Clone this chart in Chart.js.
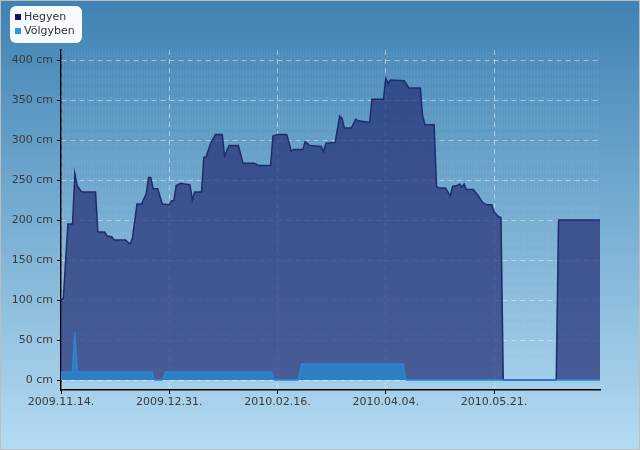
<!DOCTYPE html>
<html>
<head>
<meta charset="utf-8">
<script src="https://cdn.jsdelivr.net/npm/chart.js@4.4.1/dist/chart.umd.min.js"></script>
<style>
  body { margin: 0; background: #fff; }
  canvas { display: block; }
</style>
</head>
<body>
<canvas id="snowChart" width="640" height="450"></canvas>
<script>
// days counted from 2009.11.14.
const daysHegyen = [0, 1, 3, 5, 6, 7, 9, 15, 16, 19, 20, 22, 23, 28, 30, 31, 33, 35, 37, 38, 39, 40, 42, 44, 47, 48, 49, 50, 52, 56, 57, 58, 61, 62, 63, 65, 67, 70, 71, 73, 77, 79, 84, 86, 91, 92, 94, 98, 100, 101, 105, 106, 108, 113, 114, 115, 119, 121, 122, 123, 126, 128, 129, 134, 135, 140, 141, 142, 143, 149, 151, 156, 157, 158, 162, 163, 164, 167, 169, 170, 172, 173, 174, 175, 176, 179, 181, 183, 185, 187, 188, 190, 191, 192, 215, 216, 234];
const snowHegyen = [100, 102, 195, 195, 258, 243, 235, 235, 185, 185, 180, 179, 175, 175, 170, 177, 220, 220, 233, 253, 253, 239, 239, 220, 219, 224, 224, 243, 246, 244, 225, 235, 235, 278, 279, 296, 307, 307, 280, 293, 293, 271, 271, 268, 268, 305, 307, 307, 286, 288, 288, 298, 293, 292, 285, 296, 297, 330, 327, 315, 315, 326, 324, 322, 351, 351, 377, 371, 375, 374, 365, 365, 330, 319, 319, 242, 240, 240, 230, 242, 243, 245, 241, 245, 238, 238, 231, 222, 219, 219, 210, 204, 203, 0, 0, 200, 200];

const daysVolgyben = [0, 5, 6, 7, 39.5, 40.5, 44, 45.5, 91.5, 92.5, 103, 104.5, 148.6, 149.7, 234];
const snowVolgyben = [10, 10, 60, 10, 10, 0, 0, 10, 10, 0, 0, 20, 20, 0, 0];

const xTickDays = [0, 47, 94, 141, 188];
const xTickLabels = ['2009.11.14.', '2009.12.31.', '2010.02.16.', '2010.04.04.', '2010.05.21.'];
const yTickValues = [0, 50, 100, 150, 200, 250, 300, 350, 400];

const seriesNames = ['Hegyen', 'Völgyben'];
const seriesColors = ['#15155c', '#2a98de'];

const toPoints = (xs, ys) => xs.map((x, i) => ({ x: x, y: ys[i] }));

const backdrop = {
  id: 'backdrop',
  beforeDraw(chart) {
    const { ctx, width, height, chartArea } = chart;
    ctx.save();
    const g = ctx.createLinearGradient(0, 0, 0, height);
    g.addColorStop(0, '#3f82b3');
    g.addColorStop(1, '#b4dbf3');
    ctx.fillStyle = g;
    ctx.fillRect(0, 0, width, height);
    // faint striped texture in the plot area
    ctx.fillStyle = 'rgba(255,255,255,0.07)';
    for (let y = chartArea.top + 2; y < chartArea.bottom - 4; y += 9) {
      for (let x = chartArea.left + 2; x < chartArea.right; x += 3) {
        ctx.fillRect(x, y, 1, 5);
      }
    }
    ctx.restore();
  },
  afterDraw(chart) {
    const { ctx, width, height } = chart;
    ctx.save();
    // legend box
    ctx.fillStyle = '#f7fbff';
    ctx.beginPath();
    ctx.roundRect(10, 6, 72, 37, 6);
    ctx.fill();
    ctx.font = '11px "DejaVu Sans"';
    ctx.textBaseline = 'middle';
    seriesNames.forEach((name, i) => {
      ctx.fillStyle = seriesColors[i];
      ctx.fillRect(15, 14 + i * 14, 6, 6);
      ctx.fillStyle = '#333';
      ctx.fillText(name, 24, 17 + i * 14);
    });
    ctx.strokeStyle = '#bdbdbd';
    ctx.lineWidth = 2;
    ctx.strokeRect(0, 0, width, height);
    ctx.restore();
  }
};

const ctx = document.getElementById('snowChart').getContext('2d');
const snowChart = new Chart(ctx, {
  type: 'line',
  data: {
    datasets: [{
      label: seriesNames[0],
      data: toPoints(daysHegyen, snowHegyen),
      borderColor: '#1f2b6c',
      borderWidth: 1.5,
      backgroundColor: 'rgba(36,48,118,0.72)',
      fill: 'origin',
      pointRadius: 0,
      tension: 0,
      order: 2
    }, {
      label: seriesNames[1],
      data: toPoints(daysVolgyben, snowVolgyben),
      borderColor: '#2a86d6',
      borderWidth: 1.5,
      backgroundColor: '#2e7fc1',
      fill: 'origin',
      pointRadius: 0,
      tension: 0,
      order: 1
    }]
  },
  options: {
    responsive: false,
    animation: false,
    layout: { padding: { top: 50, right: 40, left: 0, bottom: 0 } },
    plugins: {
      legend: { display: false },
      tooltip: { enabled: false }
    },
    scales: {
      x: {
        type: 'linear',
        min: 0,
        max: 234,
        afterBuildTicks: (scale) => { scale.ticks = xTickDays.map(v => ({ value: v })); },
        afterFit: (scale) => { scale.height = 60; },
        ticks: {
          autoSkip: false,
          maxRotation: 0,
          padding: 2,
          color: '#3a3a3a',
          font: { family: 'DejaVu Sans', size: 11 },
          callback: (v) => xTickLabels[xTickDays.indexOf(v)]
        },
        grid: {
          color: 'rgba(255,255,255,0.45)',
          tickColor: '#000',
          tickLength: 4
        },
        border: { display: true, color: '#000', width: 1.5, dash: [5, 4] }
      },
      y: {
        min: -12.5,
        max: 412.5,
        afterBuildTicks: (scale) => { scale.ticks = yTickValues.map(v => ({ value: v })); },
        afterFit: (scale) => { scale.width = 61; },
        ticks: {
          padding: 4,
          color: '#3a3a3a',
          font: { family: 'DejaVu Sans', size: 11 },
          callback: (v) => v + ' cm'
        },
        grid: {
          color: 'rgba(255,255,255,0.45)',
          tickColor: '#000',
          tickLength: 4
        },
        border: { display: true, color: '#000', width: 1.5, dash: [5, 4] }
      }
    }
  },
  plugins: [backdrop]
});
</script>
</body>
</html>
